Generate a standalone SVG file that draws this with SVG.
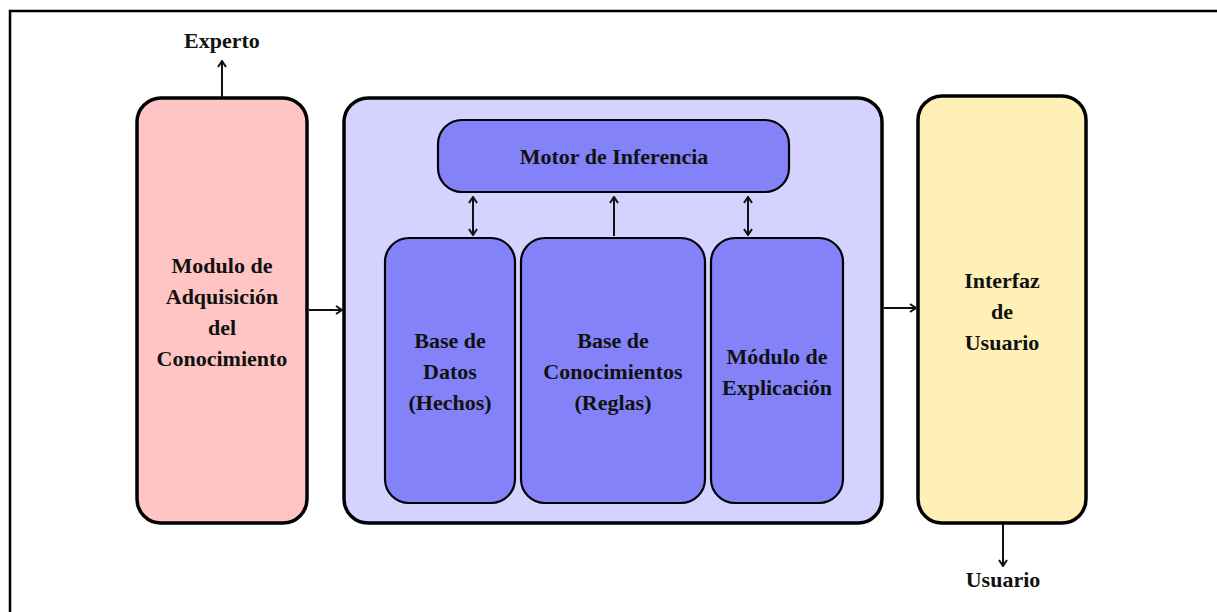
<svg xmlns="http://www.w3.org/2000/svg" width="1217" height="612" viewBox="0 0 1217 612">
  <defs>
    <marker id="tip" viewBox="0 0 10 10" refX="9" refY="5" markerWidth="10" markerHeight="10" markerUnits="userSpaceOnUse" orient="auto-start-reverse">
      <path d="M3,1 L9,5 L3,9" fill="none" stroke="#111" stroke-width="2" stroke-linejoin="miter"/>
    </marker>
  </defs>
  <style>
    .outer { stroke: #000; stroke-width: 3.5; }
    .inner { stroke: #000; stroke-width: 2.2; fill: #8482f8; }
    .lbl { font-family: 'Liberation Serif', 'DejaVu Serif', serif; font-weight: 700; font-size: 22px; fill: #111; text-anchor: middle; }
    .wire { stroke: #111; stroke-width: 2; fill: none; }
  </style>
  <rect width="1217" height="612" fill="#fff"/>
  <!-- page frame -->
  <path d="M10,614 V11 H1219" fill="none" stroke="#000" stroke-width="2.5"/>

  <g id="adquisicion">
    <rect class="outer" x="137" y="98" width="170" height="425" rx="24" fill="#ffc4c4"/>
    <text class="lbl" x="222" y="273">Modulo de</text>
    <text class="lbl" x="222" y="304">Adquisición</text>
    <text class="lbl" x="222" y="335">del</text>
    <text class="lbl" x="222" y="366">Conocimiento</text>
  </g>

  <g id="sistema">
    <rect class="outer" x="344" y="98" width="538" height="425" rx="24" fill="#d4d2ff"/>
  </g>

  <g id="motor">
    <rect class="inner" x="438" y="120" width="351" height="72" rx="24"/>
    <text class="lbl" x="614" y="164">Motor de Inferencia</text>
  </g>

  <g id="datos">
    <rect class="inner" x="385" y="238" width="130" height="265" rx="24"/>
    <text class="lbl" x="450" y="348">Base de</text>
    <text class="lbl" x="450" y="379">Datos</text>
    <text class="lbl" x="450" y="410">(Hechos)</text>
  </g>

  <g id="conocimientos">
    <rect class="inner" x="521" y="238" width="184" height="265" rx="24"/>
    <text class="lbl" x="613" y="348">Base de</text>
    <text class="lbl" x="613" y="379">Conocimientos</text>
    <text class="lbl" x="613" y="410">(Reglas)</text>
  </g>

  <g id="explicacion">
    <rect class="inner" x="711" y="238" width="132" height="265" rx="24"/>
    <text class="lbl" x="777" y="364">Módulo de</text>
    <text class="lbl" x="777" y="395">Explicación</text>
  </g>

  <g id="interfaz">
    <rect class="outer" x="918" y="96" width="168" height="427" rx="24" fill="#fff0b8"/>
    <text class="lbl" x="1002" y="288">Interfaz</text>
    <text class="lbl" x="1002" y="319">de</text>
    <text class="lbl" x="1002" y="350">Usuario</text>
  </g>

  <g id="experto">
    <text class="lbl" x="222" y="48">Experto</text>
  </g>

  <g id="usuario">
    <text class="lbl" x="1003" y="587">Usuario</text>
  </g>

  <g id="connectors">
    <line class="wire" x1="222" y1="97" x2="222" y2="61" marker-end="url(#tip)"/>
    <line class="wire" x1="309" y1="310" x2="342" y2="310" marker-end="url(#tip)"/>
    <line class="wire" x1="884" y1="308" x2="916" y2="308" marker-end="url(#tip)"/>
    <line class="wire" x1="1003" y1="524" x2="1003" y2="566" marker-end="url(#tip)"/>
    <line class="wire" x1="473" y1="197" x2="473" y2="235" marker-start="url(#tip)" marker-end="url(#tip)"/>
    <line class="wire" x1="614" y1="236" x2="614" y2="197" marker-end="url(#tip)"/>
    <line class="wire" x1="748" y1="197" x2="748" y2="235" marker-start="url(#tip)" marker-end="url(#tip)"/>
  </g>
</svg>
